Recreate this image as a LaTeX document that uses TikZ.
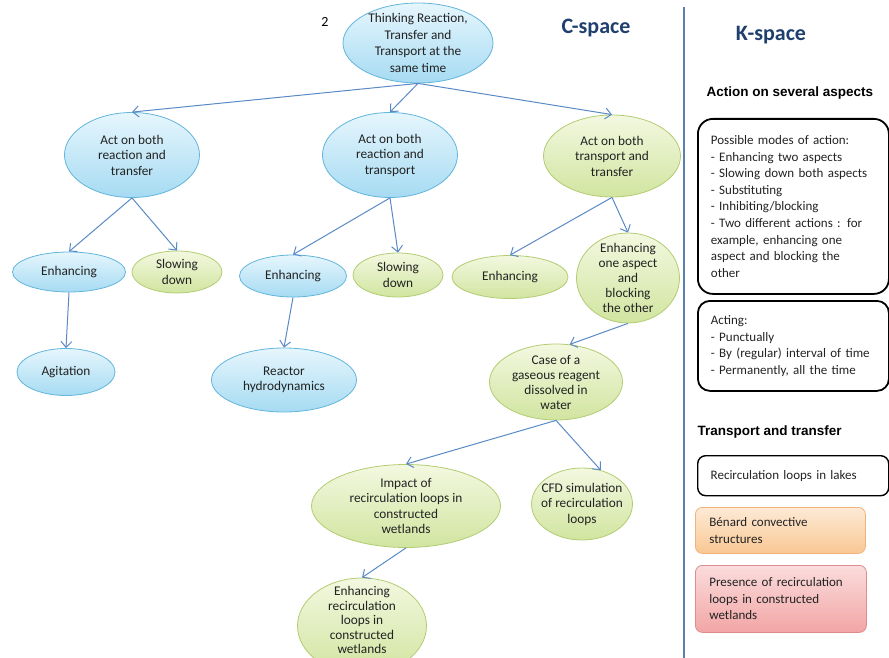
\documentclass[tikz,border=0pt]{standalone}
\usepackage{fontspec}
\setmainfont{Carlito}
\newfontfamily\headfont{Liberation Sans}
\usetikzlibrary{shapes.geometric,arrows.meta}
\definecolor{blueline}{RGB}{98,181,220}
\definecolor{bluetop}{RGB}{230,246,253}
\definecolor{bluebot}{RGB}{166,219,242}
\definecolor{greenline}{RGB}{179,204,114}
\definecolor{greentop}{RGB}{243,248,224}
\definecolor{greenbot}{RGB}{209,229,160}
\definecolor{linkblue}{RGB}{90,138,198}
\definecolor{divblue}{RGB}{91,127,174}
\definecolor{navy}{RGB}{31,63,110}
\definecolor{orangeline}{RGB}{242,178,122}
\definecolor{orangetop}{RGB}{253,234,214}
\definecolor{orangebot}{RGB}{249,199,147}
\definecolor{redline}{RGB}{224,140,140}
\definecolor{redtop}{RGB}{251,220,220}
\definecolor{redbot}{RGB}{242,165,165}
\definecolor{txtgrey}{RGB}{34,34,34}

\tikzset{
  bub/.style={ellipse, line width=0.8pt, inner sep=0pt},
  bluebub/.style={bub, draw=blueline, top color=bluetop, bottom color=bluebot},
  greenbub/.style={bub, draw=greenline, top color=greentop, bottom color=greenbot},
  bubtxt/.style={align=center, inner sep=0pt, text=txtgrey,
    font=\fontsize{13.3}{15.5}\selectfont},
  link/.style={draw=linkblue, line width=1pt,
    -{Straight Barb[length=6pt,width=11pt]}},
  kbox/.style={anchor=north west, align=left, text=txtgrey,
    font=\fontsize{13}{16.6}\selectfont, inner xsep=13pt, text width=165pt},
  head/.style={anchor=west, font=\headfont\bfseries\fontsize{13.5}{16}\selectfont},
  space/.style={font=\bfseries\fontsize{22}{24}\selectfont, text=navy}
}

\begin{document}
\begin{tikzpicture}[x=1pt, y=-1pt]
  \useasboundingbox (0,0) rectangle (889,658);
  \clip (0,0) rectangle (889,658);

  \node[font=\fontsize{14}{16}\selectfont] (num) at (325,22) {2};
  \node[space] (cspace) at (596,28) {C-space};
  \node[space] (kspace) at (771,35) {K-space};
  \draw[divblue, line width=2.2pt] (684,7) -- (684,658);

  \node[bluebub, minimum width=150, minimum height=80,
    label={[bubtxt, font=\fontsize{13.3}{16.5}\selectfont]center:{Thinking Reaction,\\Transfer and\\Transport at the\\same time}}]
    (think) at (418,43) {};

  \node[bluebub, minimum width=135, minimum height=85,
    label={[bubtxt]center:{Act on both\\reaction and\\transfer}}]
    (rxtf) at (132,155) {};
  \node[bluebub, minimum width=135, minimum height=85,
    label={[bubtxt]center:{Act on both\\reaction and\\transport}}]
    (rxtp) at (390,155) {};
  \node[greenbub, minimum width=137, minimum height=82,
    label={[bubtxt]center:{Act on both\\transport and\\transfer}}]
    (tptf) at (612,156) {};

  \node[bluebub, minimum width=113, minimum height=40,
    label={[bubtxt]center:{Enhancing}}] (enh1) at (69,272) {};
  \node[greenbub, minimum width=90, minimum height=42,
    label={[bubtxt]center:{Slowing\\down}}] (slow1) at (177,272) {};
  \node[bluebub, minimum width=107, minimum height=42,
    label={[bubtxt]center:{Enhancing}}] (enh2) at (293,276) {};
  \node[greenbub, minimum width=90, minimum height=44,
    label={[bubtxt]center:{Slowing\\down}}] (slow2) at (398,275) {};
  \node[greenbub, minimum width=116, minimum height=43,
    label={[bubtxt]center:{Enhancing}}] (enh3) at (510,277) {};
  \node[greenbub, minimum width=103, minimum height=90,
    label={[bubtxt, font=\fontsize{13.3}{15}\selectfont]center:{Enhancing\\one aspect\\and\\blocking\\the other}}]
    (oneblock) at (628,278) {};

  \node[bluebub, minimum width=98, minimum height=47,
    label={[bubtxt]center:{Agitation}}] (agit) at (66,372) {};
  \node[bluebub, minimum width=145, minimum height=64,
    label={[bubtxt]center:{Reactor\\hydrodynamics}}] (reactor) at (284,380) {};
  \node[greenbub, minimum width=133, minimum height=76,
    label={[bubtxt, font=\fontsize{13.3}{15}\selectfont]center:{Case of a\\gaseous reagent\\dissolved in\\water}}]
    (gas) at (556,382) {};

  \node[greenbub, minimum width=189, minimum height=83,
    label={[bubtxt]center:{Impact of\\recirculation loops in\\constructed\\wetlands}}]
    (impact) at (406,506) {};
  \node[greenbub, minimum width=101, minimum height=72,
    label={[bubtxt]center:{CFD simulation\\of recirculation\\loops}}]
    (cfd) at (582,504) {};
  \node[greenbub, minimum width=129, minimum height=96,
    label={[bubtxt, yshift=6pt, font=\fontsize{13.3}{14.5}\selectfont]center:{Enhancing\\recirculation\\loops in\\constructed\\wetlands}}]
    (enhloops) at (362,626) {};

  \foreach \from/\to in {think.south/rxtf.north, think.south/rxtp.north,
      think.south/tptf.north, rxtf.south/enh1.north, rxtf.south/slow1.north,
      rxtp.south/enh2.north, rxtp.south/slow2.north, tptf.south/enh3.north,
      tptf.south/oneblock.north, enh1.south/agit.north, enh2.south/reactor.north,
      oneblock.south/gas.70, gas.south/impact.north, gas.south/cfd.61,
      impact.south/enhloops.north}
    \draw[link] (\from) -- (\to);

  \node[head] (several) at (703,93) {Action on several aspects};
  \node[kbox, draw=black, line width=1.8pt, rounded corners=15pt,
    minimum width=191, minimum height=175] (modes) at (697,118)
    {Possible modes of action:\\- Enhancing two aspects\\- Slowing down both aspects\\
     - Substituting\\- Inhibiting/blocking\\- Two different actions : for\\
     example, enhancing one\\aspect and blocking the\\other};
  \node[kbox, draw=black, line width=1.8pt, rounded corners=12pt,
    minimum width=191, minimum height=90] (acting) at (697,300)
    {Acting:\\- Punctually\\- By (regular) interval of time\\- Permanently, all the time};

  \node[head] (transtrans) at (694,432) {Transport and transfer};
  \node[kbox, draw=black, line width=1.4pt, rounded corners=8pt,
    inner xsep=11pt, minimum width=191, minimum height=40] (lakes) at (697,455)
    {Recirculation loops in lakes};
  \node[kbox, draw=orangeline, line width=0.8pt, rounded corners=7pt,
    top color=orangetop, bottom color=orangebot, inner xsep=14pt, text width=142pt,
    minimum width=170, minimum height=46] (benard) at (695,507)
    {Bénard convective\\structures};
  \node[kbox, draw=redline, line width=0.8pt, rounded corners=7pt,
    top color=redtop, bottom color=redbot, inner xsep=14pt, text width=143pt,
    minimum width=171, minimum height=67] (presence) at (695,565)
    {Presence of recirculation\\loops in constructed\\wetlands};
\end{tikzpicture}
\end{document}
